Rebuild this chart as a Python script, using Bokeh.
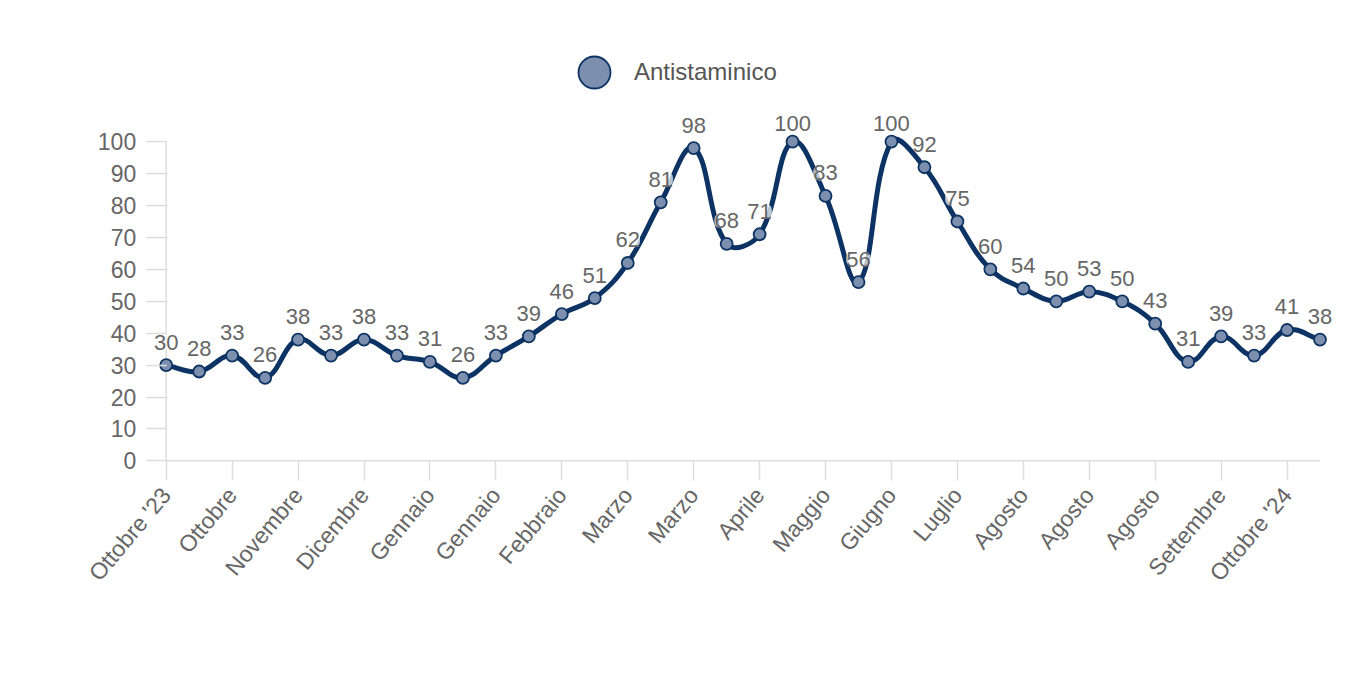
import math
import numpy as np
from bokeh.plotting import figure
from bokeh.models import Range1d, FixedTicker, Legend, LegendItem, ColumnDataSource
from bokeh.core.properties import value
from bokeh.embed import file_html
from bokeh.resources import INLINE

# ---- data ----
tick_labels = ["Ottobre '23", "Ottobre", "Novembre", "Dicembre", "Gennaio", "Gennaio",
               "Febbraio", "Marzo", "Marzo", "Aprile", "Maggio", "Giugno", "Luglio",
               "Agosto", "Agosto", "Agosto", "Settembre", "Ottobre '24"]
values = [30, 28, 33, 26, 38, 33, 38, 33, 31, 26, 33, 39, 46, 51, 62, 81, 98, 68,
          71, 100, 83, 56, 100, 92, 75, 60, 54, 50, 53, 50, 43, 31, 39, 33, 41, 38]
series_name = "Antistaminico"
y_ticks = [0, 10, 20, 30, 40, 50, 60, 70, 80, 90, 100]

FONT = "Liberation Sans"
NAVY = "#0c3363"
FILL = "#7d8fae"
GREY_TXT = "#666666"
AXIS_C = "#dddddd"

xs = np.arange(len(values), dtype=float)
ys = np.array(values, dtype=float)

# spline control points (tension 0.4), distances in approx. pixel space
SX, SY = 32.97, 3.19
px, py = xs * SX, ys * SY
t = 0.4
n = len(xs)
pcx = np.zeros(n); pcy = np.zeros(n); ncx = np.zeros(n); ncy = np.zeros(n)
for i in range(n):
    a = i - 1 if i > 0 else i
    b = i + 1 if i < n - 1 else i
    d01 = math.hypot(px[i] - px[a], py[i] - py[a])
    d12 = math.hypot(px[b] - px[i], py[b] - py[i])
    tot = d01 + d12
    s01 = d01 / tot if tot else 0
    s12 = d12 / tot if tot else 0
    fa, fb = t * s01, t * s12
    pcx[i] = px[i] - fa * (px[b] - px[a]); pcy[i] = py[i] - fa * (py[b] - py[a])
    ncx[i] = px[i] + fb * (px[b] - px[a]); ncy[i] = py[i] + fb * (py[b] - py[a])
pcx /= SX; ncx /= SX; pcy /= SY; ncy /= SY

bez = ColumnDataSource(dict(x0=xs[:-1], y0=ys[:-1], x1=xs[1:], y1=ys[1:],
                            cx0=ncx[:-1], cy0=ncy[:-1], cx1=pcx[1:], cy1=pcy[1:]))
pts = ColumnDataSource(dict(x=xs, y=ys, lab=[str(v) for v in values],
                            ly=np.minimum(ys + 23 / SY, 105.6)))

p = figure(width=1340, height=670, output_backend="svg", toolbar_location=None,
           x_range=Range1d(-2.6, 35.5), y_range=Range1d(-45, 138.6),
           min_border_left=80, min_border_right=4, min_border_top=18,
           min_border_bottom=66)
p.outline_line_color = None
p.grid.visible = False
p.background_fill_color = "white"

# axis lines
p.segment(x0=[0], y0=[0], x1=[0], y1=[y_ticks[-1]], line_color=AXIS_C, line_width=1.5)
p.segment(x0=[0], y0=[0], x1=[xs[-1]], y1=[0], line_color=AXIS_C, line_width=1.5)

p.bezier(x0="x0", y0="y0", x1="x1", y1="y1", cx0="cx0", cy0="cy0", cx1="cx1", cy1="cy1",
         source=bez, line_color=NAVY, line_width=5, line_cap="round")
sc = p.scatter(x="x", y="y", source=pts, size=12, fill_color=FILL, line_color=NAVY,
               line_width=1.8)
p.text(x="x", y="ly", text="lab", source=pts, text_align="center", text_baseline="middle",
       text_font=value(FONT), text_font_size="22px", text_color=GREY_TXT,
       background_fill_color="white", background_fill_alpha=0.72,
       border_radius=6)

# y axis
ya = p.yaxis[0]
ya.fixed_location = 0
ya.ticker = FixedTicker(ticks=y_ticks)
ya.axis_line_color = None
ya.major_tick_line_color = AXIS_C
ya.major_tick_line_width = 1.5
ya.major_tick_out = 20
ya.major_tick_in = 0
ya.minor_tick_line_color = None
ya.major_label_standoff = 10
ya.major_label_text_font = FONT
ya.major_label_text_font_size = "23px"
ya.major_label_text_color = GREY_TXT

# x axis
xa = p.xaxis[0]
xa.fixed_location = 0
tpos = [2 * i for i in range(len(tick_labels))]
xa.ticker = FixedTicker(ticks=tpos)
xa.major_label_overrides = {tp: lab for tp, lab in zip(tpos, tick_labels)}
xa.axis_line_color = None
xa.major_tick_line_color = AXIS_C
xa.major_tick_line_width = 1.5
xa.major_tick_out = 20
xa.major_tick_in = 0
xa.minor_tick_line_color = None
xa.major_label_orientation = math.radians(50)
xa.major_label_standoff = 10
xa.major_label_text_font = FONT
xa.major_label_text_font_size = "23px"
xa.major_label_text_color = GREY_TXT

legend = Legend(items=[LegendItem(label=series_name, renderers=[sc])],
                location=(474, 492), glyph_width=80, glyph_height=80,
                label_standoff=0, padding=0, margin=0, border_line_alpha=0,
                background_fill_alpha=0, label_text_font=FONT,
                label_text_font_size="24px", label_text_color="#555555")
p.add_layout(legend, "center")

open("out.html", "w").write(file_html(p, INLINE))
